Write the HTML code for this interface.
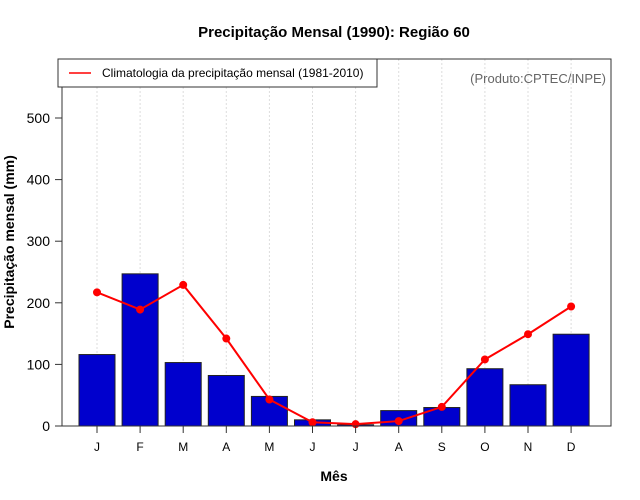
<!DOCTYPE html>
<html><head><meta charset="utf-8"><style>
body{margin:0;background:#fff;}
svg{display:block;font-family:"Liberation Sans",sans-serif;}
</style></head><body>
<svg id="c" width="640" height="500">
<text x="334" y="37" text-anchor="middle" font-size="15" font-weight="bold">Precipitação Mensal (1990): Região 60</text>
<text x="334" y="481" text-anchor="middle" font-size="14" font-weight="bold">Mês</text>
<text transform="translate(14,242) rotate(-90)" text-anchor="middle" font-size="14" font-weight="bold">Precipitação mensal (mm)</text>
<g id="grid"></g>
<g id="bars"></g>
<g id="line"></g>
<g id="axes"></g>
<rect x="58" y="59" width="319" height="28" fill="#fff" stroke="#333"/>
<line x1="69" y1="73" x2="91" y2="73" stroke="red" stroke-width="1.5"/>
<text x="102" y="77" font-size="12">Climatologia da precipitação mensal (1981-2010)</text>
<text x="606" y="83" text-anchor="end" font-size="13" fill="#666">(Produto:CPTEC/INPE)</text>
</svg>
<script>
const months=["J","F","M","A","M","J","J","A","S","O","N","D"];
const precip=[116,247,103,82,48,10,2,25,30,93,67,149];
const clim=[217,189,229,142,43,6,3,8,31,108,149,194];
const yTicks=[0,100,200,300,400,500];
const NS="http://www.w3.org/2000/svg";
const L=62,R=611,T=59,B=426;
const xs=i=>97+i*43.1;
const ys=v=>B-v*0.616;
function mk(tag,attrs,parent){const e=document.createElementNS(NS,tag);for(const k in attrs)e.setAttribute(k,attrs[k]);document.getElementById(parent).appendChild(e);return e;}
months.forEach((m,i)=>{
  const g=mk('line',{x1:xs(i),x2:xs(i),y1:T,y2:B,stroke:'#ddd','stroke-dasharray':'2,2'},'grid');
  
  
  const b=mk('rect',{x:xs(i)-18,y:ys(precip[i]),width:36,height:B-ys(precip[i]),fill:'#0000cd',stroke:'#222','stroke-width':1},'bars');
  
  
  const t=mk('line',{x1:xs(i),x2:xs(i),y1:B,y2:B+7,stroke:'#333'},'axes');
  
  
  const tx=mk('text',{x:xs(i),y:B+25,'text-anchor':'middle','font-size':12},'axes');
  tx.textContent=m;
  
  
});
const pl=mk('polyline',{points:clim.map((v,i)=>xs(i)+','+ys(v)).join(' '),fill:'none',stroke:'red','stroke-width':2},'line');


clim.forEach((v,i)=>{
  const c=mk('circle',{cx:xs(i),cy:ys(v),r:4,fill:'red'},'line');
  
  
});
yTicks.forEach(v=>{
  const t=mk('line',{x1:L-7,x2:L,y1:ys(v),y2:ys(v),stroke:'#333'},'axes');
  
  
  const tx=mk('text',{x:L-12,y:ys(v)+5,'text-anchor':'end','font-size':14},'axes');
  tx.textContent=v;
  
  
});
const fr=mk('rect',{x:L,y:T,width:R-L,height:B-T,fill:'none',stroke:'#333'},'axes');


</script>
</body></html>
